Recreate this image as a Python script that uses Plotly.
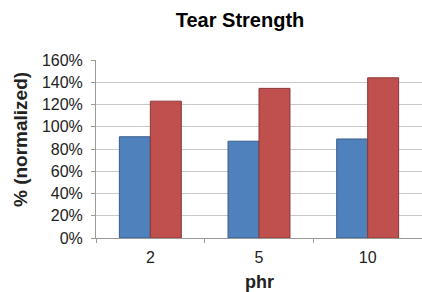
import plotly.graph_objects as go

categories = ["2", "5", "10"]
series_a = [0.91, 0.87, 0.89]
series_b = [1.23, 1.345, 1.44]
y_ticks = [0, 0.2, 0.4, 0.6, 0.8, 1.0, 1.2, 1.4, 1.6]

W, H = 422, 292
L, R, T, B = 96, 0, 60, 54
PW, PH = W - L - R, H - T - B
fig = go.Figure()
fig.add_trace(go.Bar(x=categories, y=series_a, marker=dict(color="#4F81BD", line=dict(color="#385D8A", width=1))))
fig.add_trace(go.Bar(x=categories, y=series_b, marker=dict(color="#C0504D", line=dict(color="#8C3836", width=1))))

font_fam = "Liberation Sans, Arial, sans-serif"
fig.update_layout(
    width=W, height=H,
    margin=dict(l=L, r=R, t=T, b=B, autoexpand=False),
    paper_bgcolor="white", plot_bgcolor="white",
    showlegend=False,
    barmode="group", bargap=0.43, bargroupgap=0,
    font=dict(family=font_fam, color="#222222"),
    title=dict(text="<b>Tear Strength</b>", x=240 / W, xanchor="center",
               y=1 - 20 / H, yanchor="middle", font=dict(size=20, color="black")),
    annotations=[
        dict(text="<b>% (normalized)</b>", textangle=-90, showarrow=False,
             xref="paper", yref="paper",
             x=(20 - L) / PW, y=(H - B - 140) / PH,
             xanchor="center", yanchor="middle",
             font=dict(size=19, color="#222222", family=font_fam)),
        dict(text="<b>phr</b>", showarrow=False,
             xref="paper", yref="paper",
             x=(259 - L) / PW, y=(H - B - 282) / PH,
             xanchor="center", yanchor="middle",
             font=dict(size=18, color="#222222", family=font_fam)),
    ],
)
fig.update_yaxes(
    range=[0, 1.6], tickvals=y_ticks, tickformat=".0%",
    showgrid=True, gridcolor="#C8C8C8", gridwidth=1,
    showline=True, linecolor="#9A9A9A", linewidth=1,
    ticks="outside", ticklen=4, tickcolor="#9A9A9A",
    ticklabelstandoff=5,
    tickfont=dict(size=16, color="#222222"),
    zeroline=False,
)
fig.update_xaxes(
    type="category",
    showline=True, linecolor="#9A9A9A", linewidth=1,
    ticks="outside", tickson="boundaries", ticklen=4, tickcolor="#9A9A9A",
    ticklabelstandoff=5,
    tickfont=dict(size=16, color="#222222"),
)
fig.write_html("out.html", config={"displayModeBar": False},
               post_script="document.body.style.margin='0';")
